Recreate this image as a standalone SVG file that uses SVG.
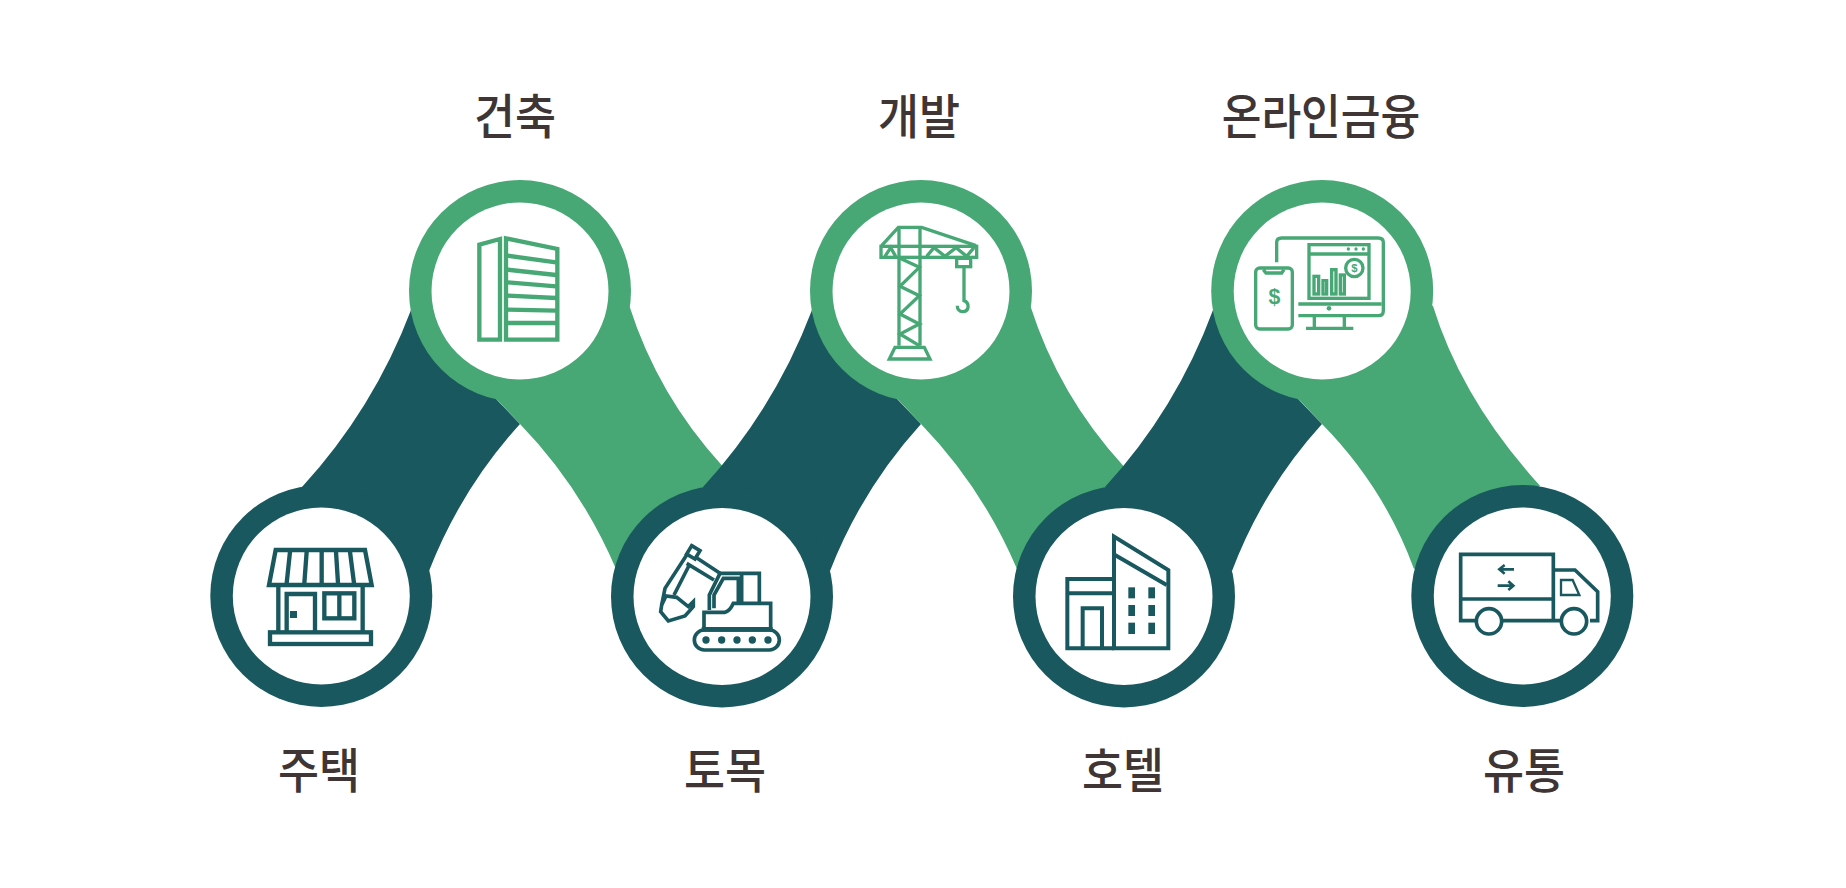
<svg xmlns="http://www.w3.org/2000/svg" width="1846" height="888" viewBox="0 0 1846 888">
<style>
.d{fill:#19585e}.g{fill:#47a875}.w{fill:#fff}
.il{fill:none;stroke-linejoin:miter}
.sd{stroke:#19585e}.sg{stroke:#47a875}
.fd{fill:#19585e;stroke:none}.fg{fill:#47a875;stroke:none}
.lb{font-family:"Noto Sans CJK KR","Noto Sans",sans-serif;font-size:48px;font-weight:500;fill:#403535;text-anchor:middle}
</style>
<rect width="1846" height="888" fill="#fff"/>
<g id="connectors">
<path class="d" d="M302 487Q373.500 409 411 310L520 424Q461 489 429 571Z"/>
<path class="g" d="M629.300 305.700Q658 395.500 722 465.400L745 490L616 569Q581 487 520 424L496 398.600L520 290Z"/>
<path class="d" d="M703 487Q774.500 409 812 310L921 424Q862 489 830 571Z"/>
<path class="g" d="M1030.300 305.700Q1059 395.500 1123 465.400L1146 490L1017 569Q982 487 921 424L897 398.600L921 290Z"/>
<path class="d" d="M1105 487Q1176.500 409 1213 310L1322 424Q1263 489 1232 571Z"/>
<path class="g" d="M1432.900 305.700Q1462 400 1540 485.700L1414 569Q1384 487 1322 424L1298 398.600L1322 290Z"/>
</g>
<g id="node-store">
<circle class="d" cx="321.300" cy="596" r="111"/><circle class="w" cx="321.300" cy="596" r="88.500"/>
<g transform="translate(210 500) scale(.33333)" class="il sd" stroke-width="13">
<path d="M197 150H465L485 255H177Z"/>
<path d="M240 155L230 250M290 155L283 250M335 155V250M378 155L384 250M420 155L432 250"/>
<path d="M205 255V395M458 255V395"/>
<rect x="180" y="397" width="303" height="35"/>
<path d="M230 395V282H315V395"/>
<rect class="fd" x="240" y="333" width="21" height="21"/>
<rect x="343" y="280" width="90" height="75"/><path d="M388 280V355"/>
</g></g>
<g id="node-excavator">
<circle class="d" cx="722" cy="596.500" r="111"/><circle class="w" cx="722" cy="596.500" r="88.500"/>
<g transform="translate(630 510) scale(.33333)" class="il sd" stroke-width="11">
<rect x="193" y="360" width="255" height="60" rx="30"/>
<g class="fd"><circle cx="228" cy="390" r="11"/><circle cx="275" cy="390" r="11"/><circle cx="321" cy="390" r="11"/><circle cx="367" cy="390" r="11"/><circle cx="414" cy="390" r="11"/></g>
<path d="M222 356V307H285Q300 303 310 280H422V356"/>
<path stroke-width="14" d="M215 358H428"/>
<path d="M238 300V255L270 190H388V278M252 295V255L280 205H325V278M335 190V278"/>
<path d="M270 190L195 140M252 210L170 160"/>
<path d="M185 107L210 122L195 147L170 132Z"/>
<path d="M170 135L105 235L95 285M178 165L132 255"/>
<path d="M95 285L108 258L140 262L175 290L190 275L190 290L165 318L115 333L92 305Z"/>
</g></g>
<g id="node-hotel">
<circle class="d" cx="1124" cy="596.500" r="111"/><circle class="w" cx="1124" cy="596.500" r="88.500"/>
<g transform="translate(1040 510) scale(.33333)" class="il sd" stroke-width="12">
<path d="M222 415H82V207H222M82 250H222M128 410V295H186V410"/>
<path d="M222 415V80L385 180V415Z"/>
<path d="M225 135L380 225"/>
<g class="fd"><rect x="265" y="232" width="20" height="33"/><rect x="325" y="232" width="20" height="33"/><rect x="265" y="285" width="20" height="33"/><rect x="325" y="285" width="20" height="33"/><rect x="265" y="338" width="20" height="34"/><rect x="325" y="338" width="20" height="34"/></g>
</g></g>
<g id="node-truck">
<circle class="d" cx="1522.300" cy="596" r="111"/><circle class="w" cx="1522.300" cy="596" r="88.500"/>
<g transform="translate(1430 530) scale(.33333)" class="il sd" stroke-width="11">
<path d="M135 272H92V73H370V272M95 207H365M372 120H435L503 185V272H480M218 272H392"/>
<circle cx="177" cy="274" r="38"/><circle cx="432" cy="274" r="38"/>
<path stroke-width="7" d="M393 150H428L448 195H393Z"/>
<path stroke-width="8" d="M252 118H212M224 105L208 118L224 131M203 167H245M235 154L250 167L235 180"/>
</g></g>
<g id="node-building">
<circle class="g" cx="520" cy="291" r="111"/><circle class="w" cx="520" cy="291" r="88.500"/>
<g transform="translate(420 199) scale(.33333)" class="il sg" stroke-width="13">
<path d="M178 422V137L240 120V422Z"/>
<path d="M258 422V118L412 150V422Z"/>
<path d="M262 170L408 190M262 212L408 228M262 250L408 262M262 290L408 297M262 332L408 335M262 372H408"/>
</g></g>
<g id="node-crane">
<circle class="g" cx="921" cy="291" r="111"/><circle class="w" cx="921" cy="291" r="88.500"/>
<g transform="translate(830 199) scale(.33333)" class="il sg" stroke-width="10">
<rect x="153" y="142" width="287" height="33"/>
<path d="M155 140L205 85H275L438 140M207 85V440M270 85V440"/>
<path d="M165 172L182 146L197 172M290 172L312 146L345 172L378 146L410 172L432 146"/>
<path d="M210 178L268 205L210 262L268 290L210 345L268 375L210 405L268 440"/>
<path d="M178 480L195 445H283L300 480Z"/>
<rect x="380" y="178" width="42" height="25"/>
<path d="M402 203V305C420 312 418 338 398 338C388 338 382 330 382 320"/>
</g></g>
<g id="node-finance">
<circle class="g" cx="1322.200" cy="291" r="111"/><circle class="w" cx="1322.200" cy="291" r="88.500"/>
<g transform="translate(1230 209) scale(.33333)" class="il sg" stroke-width="10">
<path d="M140 160V100Q140 87 155 87H445Q460 87 460 100V305Q460 320 445 320H205"/>
<rect x="237" y="107" width="180" height="161"/>
<path d="M237 135H417M205 285H455M253 320V355M343 320V355M228 358H370"/>
<g class="fg"><circle cx="355" cy="120" r="5"/><circle cx="378" cy="120" r="5"/><circle cx="400" cy="120" r="5"/><circle cx="297" cy="298" r="7"/><circle cx="131" cy="337" r="8"/></g>
<rect x="252" y="202" width="14" height="53"/><rect x="279" y="215" width="11" height="40"/><rect x="305" y="182" width="13" height="73"/><rect x="331" y="198" width="12" height="57"/>
<circle cx="373" cy="177" r="26" fill="#fff"/>
<rect x="77" y="177" width="110" height="183" rx="12" fill="#fff"/>
<path d="M100 182L108 192H155L162 182"/>
<text x="133" y="285" font-family="Liberation Sans,sans-serif" font-size="64" font-weight="700" text-anchor="middle" class="fg">$</text>
<text x="373" y="189" font-family="Liberation Sans,sans-serif" font-size="34" font-weight="700" text-anchor="middle" class="fg">$</text>
</g></g>
<g id="labels">
<text class="lb" transform="translate(515 134) scale(.93 1)">건축</text>
<text class="lb" transform="translate(919 134) scale(.93 1)">개발</text>
<text class="lb" transform="translate(1321 134) scale(.9 1)">온라인금융</text>
<text class="lb" transform="translate(319 788) scale(.93 1)">주택</text>
<text class="lb" transform="translate(725 788) scale(.93 1)">토목</text>
<text class="lb" transform="translate(1123 788) scale(.93 1)">호텔</text>
<text class="lb" transform="translate(1524 788) scale(.93 1)">유통</text>
</g>
</svg>
